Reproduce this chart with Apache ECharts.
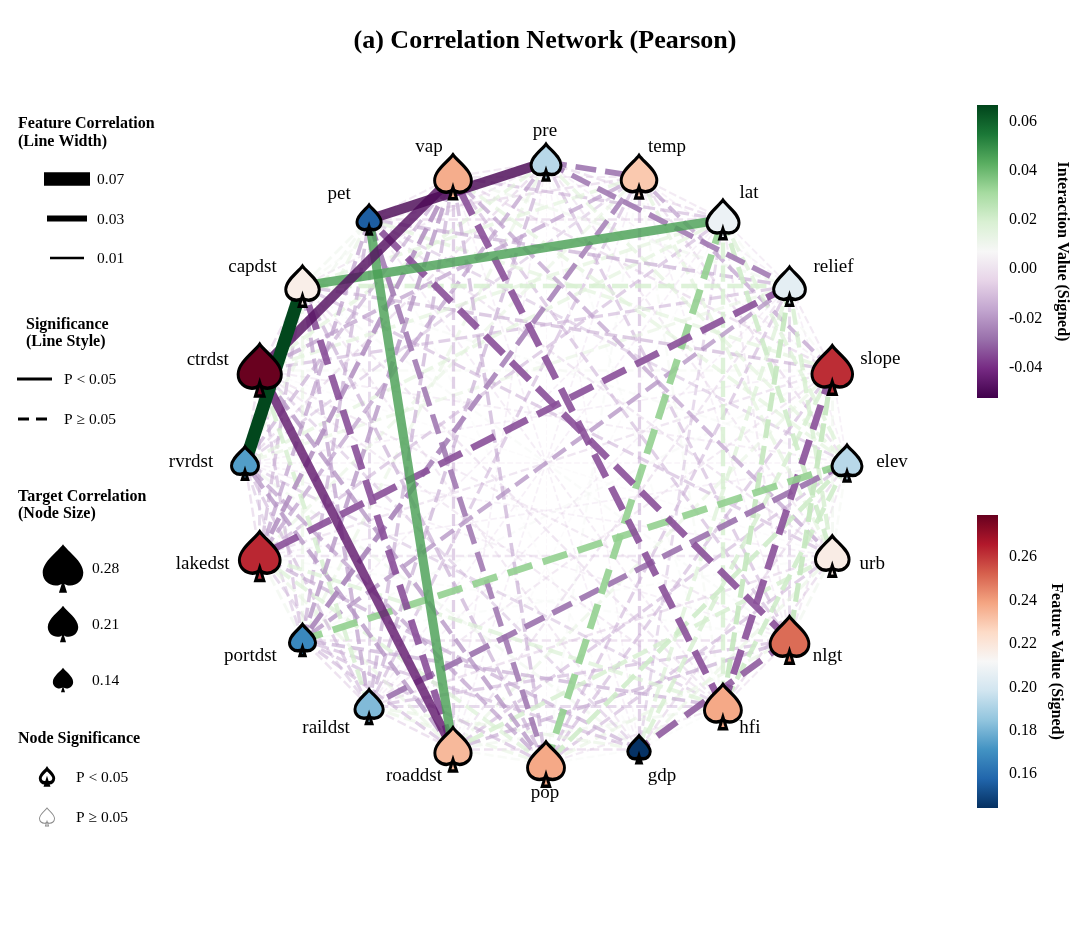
<!DOCTYPE html>
<html><head><meta charset="utf-8">
<style>html,body{margin:0;padding:0;background:#fff}#c{width:1080px;height:926px}</style>
<script src="https://cdn.jsdelivr.net/npm/echarts@6/dist/echarts.min.js"></script>
</head><body><div id="c"></div>
<script>
const nodeNames = ['pre','temp','lat','relief','slope','elev','urb','nlgt','hfi','gdp','pop','roaddst','raildst','portdst','lakedst','rvrdst','ctrdst','capdst','pet','vap'];
const nodeValues = [0.193,0.230,0.208,0.205,0.262,0.193,0.217,0.250,0.238,0.145,0.238,0.234,0.182,0.168,0.263,0.174,0.279,0.216,0.156,0.237];
const labelOffsets = [[-1,-31],[28,-30],[26,-26],[44,-19],[48,-11],[45,-1],[40,8],[38,16],[27,22],[23,27],[-1,29],[-39,27],[-43,22],[-52,16],[-57,8],[-54,-1],[-52,-10],[-50,-19],[-30,-25],[-24,-30]];
// Upper triangle of the interaction matrix, in thousandths; row i holds pairs (i, i+1 ... 19)
const interactionRows = [
 [-27,-10,-26,-6,16,-8,-14,8,-5,-3,-6,-16,14,-18,-10,16,-8,-50,-8],
 [-8,-6,-18,-10,16,-6,10,-14,9,-6,-14,-24,14,-12,-18,16,-10,-8],
 [-7,10,18,22,-8,20,-12,34,5,-6,-6,-14,16,16,46,-10,-14],
 [-8,-6,20,-12,24,18,-14,-9,-6,-20,-34,14,-14,20,-16,12],
 [-6,12,24,-34,20,-14,14,-8,9,-9,-6,10,-15,16,-10],
 [10,-8,22,-10,22,-14,-28,34,-6,-5,-7,9,-12,16],
 [12,-10,14,-14,20,-10,8,-9,-6,5,-14,-9,-18],
 [-8,-32,14,-16,-14,-10,8,-6,-8,9,-34,-14],
 [8,-8,12,-12,-16,18,-12,-8,-9,-7,-34],
 [8,-10,14,-14,-16,12,-12,-8,7,-6],
 [10,14,-14,18,-18,-20,-16,-26,-16],
 [-10,-14,14,-20,-45,-34,46,-14],
 [-10,-12,-14,20,-18,-12,-16],
 [12,-12,-14,14,-16,-20],
 [-10,-12,-15,-18,-22],
 [-10,66,14,-16],
 [-10,12,-48],
 [12,10],
 [-8]
];
const significantPairs = [['rvrdst','capdst'],['pre','pet'],['vap','ctrdst'],['ctrdst','roaddst'],['pet','roaddst'],['capdst','lat']];
const interactionTicks = [-0.04,-0.02,0,0.02,0.04,0.06];
const featureTicks = [0.16,0.18,0.20,0.22,0.24,0.26];
const interactionRange = [-0.0524,0.0668];
const featureRange = [0.1444,0.2794];
const widthLegend = [0.07,0.03,0.01];
const sizeLegend = [0.28,0.21,0.14];
const PRGn = ['#40004b','#762a83','#9970ab','#c2a5cf','#e7d4e8','#f7f7f7','#d9f0d3','#a6dba0','#5aae61','#1b7837','#00441b'];
const RdBu = ['#053061','#2166ac','#4393c3','#92c5de','#d1e5f0','#f7f7f7','#fddbc7','#f4a582','#d6604d','#b2182b','#67001f'];

const SPADE = 'M50 0C62 18 100 42 100 70C100 90 84 102 68 102C60 102 54 99 50 95C46 99 40 102 32 102C16 102 0 90 0 70C0 42 38 18 50 0ZM50 88L60 120L40 120Z';
const FONT = '"Liberation Serif","Times New Roman",serif';

function hex(c){return [1,3,5].map(i=>parseInt(c.substr(i,2),16));}
function cmap(stops,range,v){
  let t=(v-range[0])/(range[1]-range[0]); t=Math.max(0,Math.min(1,t))*(stops.length-1);
  const i=Math.min(stops.length-2,Math.floor(t)),f=t-i,a=hex(stops[i]),b=hex(stops[i+1]);
  return 'rgb('+a.map((x,k)=>Math.round(x+(b[k]-x)*f)).join(',')+')';
}
const lineW = v => 0.65+185*Math.abs(v);
const nodeW = v => 155*v;
const glyphW = v => 145*v;
const sigKey = new Set(significantPairs.map(p=>p.map(n=>nodeNames.indexOf(n)).sort((a,b)=>a-b).join('-')));

const links=[];
interactionRows.forEach((row,i)=>row.forEach((m,k)=>{
  const j=i+1+k, v=m/1000, w=lineW(v), sig=sigKey.has(i+'-'+j);
  links.push({source:i,target:j,abs:Math.abs(v),lineStyle:{
    color:cmap(PRGn,interactionRange,v),width:w,
    type:sig?'solid':[3.7*w,1.6*w],
    opacity:sig?(Math.abs(v)>0.06?1:0.82):Math.min(0.9,0.07+Math.abs(v)*36),curveness:0}});
}));
links.sort((a,b)=>a.abs-b.abs);

const nodes=nodeNames.map((n,i)=>{
  const w=nodeW(nodeValues[i]);
  return {name:n,value:[1,i],symbolSize:[w,w*1.2],
    itemStyle:{color:cmap(RdBu,featureRange,nodeValues[i])},
    label:{offset:labelOffsets[i]}};
});

function colorbar(gridIdx,stops,range){
  return {type:'custom',xAxisIndex:gridIdx,yAxisIndex:gridIdx,silent:true,animation:false,
    coordinateSystem:'cartesian2d',clip:false,
    data:[[0,1,range[0],range[1]]],encode:{x:[0,1],y:[2,3]},
    renderItem:(p,api)=>{
      const a=api.coord([api.value(0),api.value(3)]),b=api.coord([api.value(1),api.value(2)]);
      return {type:'rect',shape:{x:a[0],y:a[1],width:b[0]-a[0],height:b[1]-a[1]},
        style:{fill:new echarts.graphic.LinearGradient(0,1,0,0,stops.map((c,i)=>({offset:i/(stops.length-1),color:c})))}};
    }};
}
function barY(idx,range,ticks,name,gap){
  return {type:'value',gridIndex:idx,position:'right',min:range[0],max:range[1],splitLine:{show:false},
    axisLine:{show:false},
    axisTick:{show:true,length:5,lineStyle:{color:'#000',width:1},customValues:ticks},
    axisLabel:{color:'#000',fontFamily:FONT,fontSize:16,margin:11,customValues:ticks,formatter:v=>v.toFixed(2)},
    name:name,nameLocation:'middle',nameRotate:-90,nameGap:gap,
    nameTextStyle:{color:'#000',fontFamily:FONT,fontSize:16,fontWeight:'bold'}};
}
const hidX=i=>({type:'value',gridIndex:i,min:0,max:1,show:false});

function txt(x,y,s,bold,size){return {type:'text',x:x,y:y,silent:true,style:{text:s,fill:'#000',font:(bold?'bold 16':(size||15.5))+'px '+FONT,verticalAlign:'middle',align:'left'}};}
function seg(x1,x2,y,w,dash){return {type:'line',silent:true,shape:{x1:x1,y1:y,x2:x2,y2:y},style:{stroke:'#000',lineWidth:w,lineDash:dash||null}};}

const g=[
 txt(18,124,'Feature Correlation',true),txt(18,142,'(Line Width)',true),
 seg(44,90,179,lineW(widthLegend[0])),txt(97,180,widthLegend[0].toFixed(2)),
 seg(47,87,218.5,lineW(widthLegend[1])),txt(97,219.5,widthLegend[1].toFixed(2)),
 seg(50,84,258,lineW(widthLegend[2])),txt(97,259,widthLegend[2].toFixed(2)),
 txt(26,325,'Significance',true),txt(26,342,'(Line Style)',true),
 seg(17,52,379,3),txt(64,380,'P < 0.05'),
 seg(18,48,419,3,[11,7]),txt(64,420,'P ≥ 0.05'),
 txt(18,497,'Target Correlation',true),txt(18,514,'(Node Size)',true),
 txt(92,569,sizeLegend[0].toFixed(2)),
 txt(92,625,sizeLegend[1].toFixed(2)),
 txt(92,681,sizeLegend[2].toFixed(2)),
 txt(18,739,'Node Significance',true),
 txt(76,778,'P < 0.05'),
 txt(76,818,'P ≥ 0.05')
];

// Legend glyphs: scatter marks on a page-sized hidden grid
const legendGlyphs=[
 {value:[63,568.5],symbolSize:[glyphW(sizeLegend[0]),glyphW(sizeLegend[0])*1.2],itemStyle:{color:'#000',opacity:1}},
 {value:[63,624],symbolSize:[glyphW(sizeLegend[1]),glyphW(sizeLegend[1])*1.2],itemStyle:{color:'#000',opacity:1}},
 {value:[63,680],symbolSize:[glyphW(sizeLegend[2]),glyphW(sizeLegend[2])*1.2],itemStyle:{color:'#000',opacity:1}},
 {value:[47,777],symbolSize:[13.5,16.2],itemStyle:{color:'#fff',borderColor:'#000',borderWidth:3.2,opacity:1}},
 {value:[47,817],symbolSize:[15,18],itemStyle:{color:'#fff',borderColor:'#888',borderWidth:1,opacity:1}}
];

const chart=echarts.init(document.getElementById('c'),null,{renderer:'canvas'});
chart.setOption({
  animation:false,backgroundColor:'#fff',
  title:{text:'(a) Correlation Network (Pearson)',left:540,top:23,textAlign:'center',
    textStyle:{fontFamily:FONT,fontSize:26,fontWeight:'bold',color:'#000'}},
  polar:{center:[546,463],radius:301},
  angleAxis:{type:'value',min:0,max:20,startAngle:90,clockwise:true,show:false},
  radiusAxis:{type:'value',min:0,max:1,show:false},
  grid:[{left:977,top:105,width:21,height:293},{left:977,top:515,width:21,height:293},{left:0,top:0,width:1080,height:926}],
  xAxis:[hidX(0),hidX(1),{type:'value',gridIndex:2,min:0,max:1080,show:false}],
  yAxis:[barY(0,interactionRange,interactionTicks,'Interaction Value (Signed)',56),
         barY(1,featureRange,featureTicks,'Feature Value (Signed)',50),
         {type:'value',gridIndex:2,min:0,max:926,inverse:true,show:false}],
  graphic:{elements:g},
  series:[
    {type:'graph',coordinateSystem:'polar',polarIndex:0,layout:'none',silent:true,animation:false,
     symbol:'path://'+SPADE,symbolKeepAspect:false,
     itemStyle:{borderColor:'#000',borderWidth:3.2,opacity:1},
     label:{show:true,position:'inside',color:'#000',fontFamily:FONT,fontSize:19,formatter:'{b}'},
     emphasis:{disabled:true},
     data:nodes,links:links,z:3},
    colorbar(0,PRGn,interactionRange),
    colorbar(1,RdBu,featureRange),
    {type:'scatter',xAxisIndex:2,yAxisIndex:2,silent:true,symbol:'path://'+SPADE,data:legendGlyphs,z:4}
  ]
});
</script></body></html>
